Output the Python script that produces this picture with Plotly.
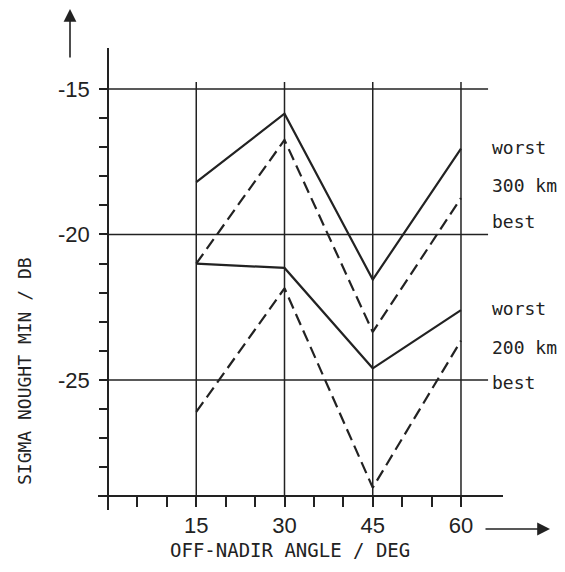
import plotly.graph_objects as go

# ---- data ----
angles = [15, 30, 45, 60]
worst_300 = [-18.2, -15.85, -21.55, -17.05]
best_300 = [-21.0, -16.75, -23.35, -18.75]
worst_200 = [-21.0, -21.15, -24.6, -22.6]
best_200 = [-26.1, -21.85, -28.7, -23.65]

x_ticks = [5, 10, 15, 20, 25, 30, 35, 40, 45, 50, 55, 60]
x_labels = ["", "", "15", "", "", "30", "", "", "45", "", "", "60"]
y_ticks = list(range(-29, -14))
y_labels = ["-15" if v == -15 else "-20" if v == -20 else "-25" if v == -25 else "" for v in y_ticks]
grid_y = [-15, -20, -25]
grid_x = [15, 30, 45, 60]

side_labels = ["worst", "300 km", "best", "worst", "200 km", "best"]
side_label_y = [-17.0, -18.3, -19.57, -22.56, -23.87, -25.1]

X_RANGE = [-1.7, 67.14]
Y_RANGE = [-29.47, -13.59]
INK = "#222222"

# page body has an 8px margin, so the figure starts at (8, 8)
OFF = 8
L, T = 98 - OFF, 48 - OFF
PW, PH = 405, 462
W, H = 565 - 2 * OFF, 572 - 2 * OFF


def px(xp):
    return (xp - 98) / PW


def py(yp):
    return (510 - yp) / PH


fig = go.Figure()

series = [
    (worst_300, "solid", "300 km worst"),
    (best_300, "12px,6px", "300 km best"),
    (worst_200, "solid", "200 km worst"),
    (best_200, "12px,6px", "200 km best"),
]
for vals, dash, name in series:
    fig.add_trace(go.Scatter(
        x=angles, y=vals, mode="lines", name=name,
        line=dict(color=INK, width=2.2, dash=dash),
        showlegend=False, hoverinfo="x+y+name",
    ))

shapes = []
for gy in grid_y:
    shapes.append(dict(type="line", xref="x", yref="y", x0=0, x1=64.6, y0=gy, y1=gy,
                       line=dict(color=INK, width=1.5), layer="below"))
for gx in grid_x:
    shapes.append(dict(type="line", xref="x", yref="y", x0=gx, x1=gx, y0=-29, y1=-14.76,
                       line=dict(color=INK, width=1.5), layer="below"))

annotations = []
for txt, yv in zip(side_labels, side_label_y):
    annotations.append(dict(x=64.9, y=yv, xref="x", yref="y", text=txt, showarrow=False,
                            xanchor="left", yanchor="middle",
                            font=dict(family="DejaVu Sans Mono", size=18, color=INK)))

# direction arrows
annotations.append(dict(x=px(70), y=py(7), xref="paper", yref="paper", text="",
                        showarrow=True, ax=0, ay=52, axref="pixel", ayref="pixel",
                        arrowhead=2, arrowsize=1.6, arrowwidth=1.6, arrowcolor=INK))
annotations.append(dict(x=px(550), y=py(529), xref="paper", yref="paper", text="",
                        showarrow=True, ax=-66, ay=0, axref="pixel", ayref="pixel",
                        arrowhead=2, arrowsize=1.6, arrowwidth=1.6, arrowcolor=INK))

# axis titles
annotations.append(dict(x=px(290), y=py(550), xref="paper", yref="paper",
                        text="OFF-NADIR ANGLE / DEG", showarrow=False,
                        xanchor="center", yanchor="middle",
                        font=dict(family="DejaVu Sans Mono", size=19, color=INK)))
annotations.append(dict(x=px(25), y=py(371), xref="paper", yref="paper",
                        text="SIGMA NOUGHT MIN / DB", showarrow=False, textangle=-90,
                        xanchor="center", yanchor="middle",
                        font=dict(family="DejaVu Sans Mono", size=18, color=INK)))

xpos = (-29 - Y_RANGE[0]) / (Y_RANGE[1] - Y_RANGE[0])
ypos = (0 - X_RANGE[0]) / (X_RANGE[1] - X_RANGE[0])

fig.update_layout(
    width=W, height=H,
    margin=dict(l=L, r=W - L - PW, t=T, b=H - T - PH),
    paper_bgcolor="white", plot_bgcolor="white",
    shapes=shapes, annotations=annotations,
    xaxis=dict(range=X_RANGE, anchor="free", position=xpos,
               showline=True, linecolor=INK, linewidth=1.5,
               tickmode="array", tickvals=x_ticks, ticktext=x_labels,
               ticks="outside", ticklen=10, tickwidth=1.5, tickcolor=INK,
               showgrid=False, zeroline=False,
               tickfont=dict(family="Liberation Sans", size=22, color=INK)),
    yaxis=dict(range=Y_RANGE, anchor="free", position=ypos,
               showline=True, linecolor=INK, linewidth=1.5,
               tickmode="array", tickvals=y_ticks, ticktext=y_labels,
               ticks="outside", ticklen=8, tickwidth=1.5, tickcolor=INK,
               ticklabelstandoff=5,
               showgrid=False, zeroline=False,
               tickfont=dict(family="Liberation Sans", size=22, color=INK)),
)

fig.write_html("out.html")
